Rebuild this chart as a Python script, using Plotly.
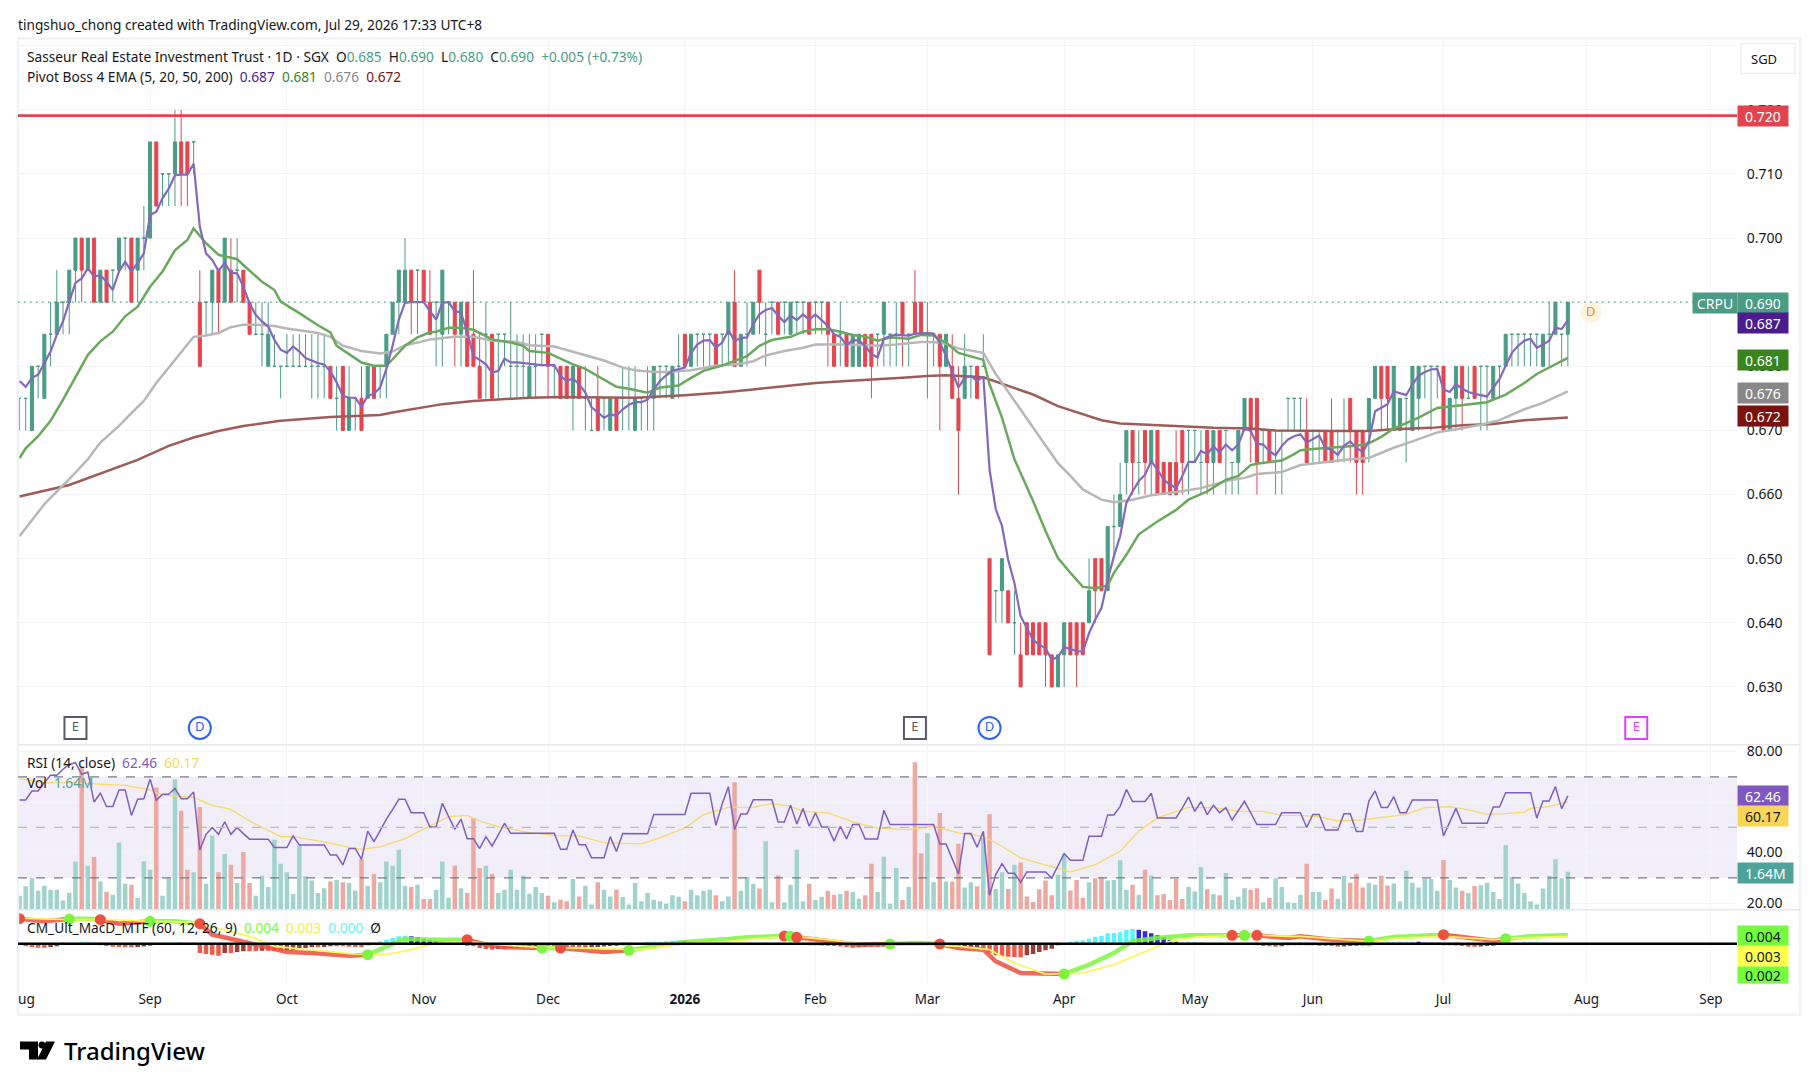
import plotly.graph_objects as go

WIDTH = 1814
HEIGHT = 1084

# prices in thousandths of SGD, one entry per session
OPEN = [
    675, 675, 670, 680, 675, 685, 685, 690, 690, 695,
    700, 695, 700, 690, 695, 695, 695, 700, 700, 695,
    700, 700, 715, 710, 710, 710, 715, 715, 715, 690,
    690, 690, 695, 690, 695, 695, 695, 690, 685, 685,
    680, 680, 680, 680, 680, 680, 680, 680, 680, 680,
    680, 675, 680, 670, 675, 675, 675, 680, 680, 680,
    685, 690, 690, 695, 695, 695, 690, 690, 685, 690,
    690, 685, 690, 685, 680, 685, 685, 685, 685, 680,
    680, 680, 675, 680, 685, 685, 680, 680, 680, 675,
    680, 675, 670, 675, 675, 670, 675, 675, 675, 670,
    675, 675, 675, 680, 680, 675, 680, 685, 680, 685,
    685, 685, 685, 685, 685, 690, 680, 685, 685, 695,
    685, 690, 690, 690, 685, 690, 690, 690, 690, 690,
    690, 685, 685, 685, 680, 680, 685, 685, 685, 685,
    685, 685, 690, 685, 690, 690, 685, 685, 685, 680,
    680, 675, 675, 680, 680, 680, 650, 645, 645, 645,
    640, 635, 640, 640, 640, 640, 635, 630, 635, 640,
    640, 640, 640, 650, 650, 645, 655, 655, 665, 670,
    665, 670, 665, 670, 665, 665, 665, 670, 670, 670,
    665, 670, 665, 670, 670, 665, 665, 670, 675, 675,
    670, 670, 670, 670, 675, 675, 675, 670, 670, 670,
    670, 670, 670, 670, 675, 670, 670, 670, 675, 680,
    680, 670, 670, 675, 670, 675, 680, 680, 680, 680,
    670, 675, 680, 675, 680, 680, 680, 675, 680, 680,
    685, 685, 685, 685, 685, 680, 685, 685, 685, 685,
]
HIGH = [
    675, 675, 680, 680, 685, 690, 695, 690, 695, 700,
    700, 700, 700, 695, 695, 695, 700, 700, 700, 700,
    705, 715, 715, 710, 710, 720, 720, 715, 715, 695,
    690, 695, 695, 700, 700, 700, 695, 690, 690, 690,
    690, 685, 680, 685, 685, 685, 685, 685, 685, 685,
    680, 680, 680, 680, 675, 680, 680, 680, 680, 685,
    690, 695, 700, 695, 695, 695, 695, 690, 695, 690,
    690, 690, 690, 695, 685, 690, 685, 685, 685, 690,
    685, 685, 685, 685, 685, 685, 680, 680, 680, 680,
    680, 680, 675, 680, 675, 675, 675, 680, 680, 680,
    675, 680, 680, 680, 680, 680, 685, 685, 685, 685,
    685, 685, 685, 685, 690, 695, 685, 690, 690, 695,
    690, 690, 690, 690, 690, 690, 690, 690, 690, 690,
    690, 685, 690, 685, 685, 685, 685, 685, 685, 690,
    685, 690, 690, 685, 695, 690, 690, 685, 685, 685,
    685, 680, 685, 680, 680, 685, 650, 645, 650, 645,
    645, 640, 640, 640, 640, 640, 635, 635, 640, 640,
    640, 640, 650, 650, 650, 655, 660, 665, 670, 670,
    670, 670, 670, 670, 665, 665, 670, 670, 670, 670,
    670, 670, 670, 670, 670, 665, 670, 675, 675, 675,
    670, 670, 670, 670, 675, 675, 675, 675, 670, 670,
    670, 675, 670, 675, 675, 670, 670, 675, 680, 680,
    680, 680, 675, 675, 680, 680, 680, 680, 680, 680,
    675, 680, 680, 680, 680, 680, 680, 680, 680, 685,
    685, 685, 685, 685, 685, 685, 690, 690, 685, 690,
]
LOW = [
    670, 670, 670, 675, 675, 680, 685, 685, 685, 690,
    690, 695, 690, 690, 690, 690, 695, 695, 690, 690,
    695, 700, 705, 705, 705, 705, 705, 705, 710, 680,
    685, 685, 685, 690, 690, 690, 690, 685, 685, 680,
    680, 680, 675, 680, 680, 680, 680, 675, 675, 675,
    675, 670, 670, 670, 670, 670, 675, 675, 675, 675,
    685, 685, 690, 685, 685, 690, 685, 680, 680, 685,
    680, 680, 680, 680, 675, 675, 675, 675, 680, 675,
    675, 675, 675, 675, 680, 675, 675, 675, 675, 670,
    675, 670, 670, 670, 670, 670, 670, 670, 670, 670,
    670, 670, 670, 675, 675, 675, 675, 680, 680, 680,
    680, 680, 680, 680, 680, 680, 680, 680, 685, 685,
    680, 685, 685, 685, 685, 685, 685, 685, 685, 685,
    680, 680, 680, 680, 680, 680, 680, 675, 680, 680,
    680, 680, 680, 680, 685, 685, 675, 680, 670, 680,
    675, 660, 675, 675, 675, 680, 635, 640, 640, 640,
    635, 630, 635, 635, 635, 630, 630, 630, 630, 635,
    630, 635, 640, 640, 645, 645, 650, 655, 660, 660,
    660, 660, 660, 660, 660, 660, 660, 660, 660, 665,
    660, 660, 660, 665, 660, 660, 660, 670, 665, 660,
    665, 665, 660, 660, 670, 670, 670, 665, 665, 665,
    665, 665, 665, 665, 665, 660, 660, 665, 675, 670,
    670, 670, 670, 665, 670, 670, 675, 670, 675, 670,
    670, 670, 670, 675, 675, 670, 670, 675, 675, 680,
    680, 680, 680, 680, 680, 680, 680, 685, 680, 680,
]
CLOSE = [
    675, 675, 680, 680, 685, 685, 690, 690, 695, 700,
    695, 700, 690, 695, 690, 695, 700, 700, 690, 700,
    700, 715, 705, 710, 710, 715, 710, 710, 715, 680,
    690, 695, 690, 700, 690, 695, 690, 685, 685, 685,
    685, 680, 680, 680, 680, 680, 680, 680, 680, 680,
    675, 675, 670, 675, 675, 670, 680, 675, 680, 685,
    690, 695, 695, 690, 695, 690, 685, 690, 695, 690,
    685, 690, 680, 680, 675, 685, 675, 685, 685, 680,
    680, 680, 680, 680, 685, 680, 680, 675, 675, 680,
    675, 675, 670, 670, 675, 675, 670, 675, 675, 675,
    675, 675, 680, 680, 680, 680, 680, 680, 685, 685,
    685, 685, 680, 685, 690, 680, 685, 685, 690, 690,
    685, 690, 685, 690, 690, 690, 690, 685, 690, 690,
    685, 680, 685, 680, 685, 685, 680, 680, 685, 690,
    685, 685, 685, 685, 685, 685, 685, 685, 680, 685,
    675, 670, 680, 680, 675, 680, 635, 645, 650, 640,
    640, 630, 635, 635, 635, 635, 630, 635, 640, 635,
    635, 635, 645, 645, 645, 655, 655, 660, 670, 665,
    665, 665, 670, 660, 660, 660, 660, 665, 670, 670,
    665, 665, 670, 665, 670, 665, 670, 675, 670, 665,
    670, 665, 670, 670, 675, 675, 675, 665, 670, 670,
    665, 665, 670, 670, 670, 665, 665, 675, 680, 675,
    675, 680, 675, 675, 680, 680, 680, 680, 680, 670,
    675, 680, 675, 675, 675, 680, 680, 680, 680, 685,
    685, 685, 685, 685, 685, 685, 685, 690, 685, 690,
]

# volume in millions
VOLUME = [
    .60, 1.01, 1.36, .82, 1.03, .86, .86, .40, .72, 2.08,
    6.18, 1.90, 2.27, 1.22, .76, .65, 2.90, 1.12, 1.08, .50,
    2.08, 1.72, 5.27, .60, 1.36, 5.63, 4.27, 1.72, 1.62, 4.43,
    1.12, 3.20, 1.62, 2.40, 1.94, 1.15, 2.49, 1.15, .60, 1.47,
    .98, 3.02, 1.98, 1.62, .68, 2.76, 1.44, 1.26, .72, .93,
    1.22, 1.29, 1.18, 1.15, .83, 2.18, 1.03, 1.54, 1.18, 2.08,
    1.90, 2.59, 1.03, .98, 1.08, .46, .46, .86, 2.08, .52,
    1.90, .93, .72, 3.95, 1.80, 1.90, 1.54, .72, .86, 1.72,
    .86, 1.47, .69, .98, .72, .60, .32, .43, .36, 1.32,
    .57, 1.03, .22, 1.18, .86, .57, .86, .55, .22, 1.15,
    .36, .72, .43, .36, .26, .62, .56, .36, .86, .62,
    .82, .86, .62, .36, .57, 5.50, .82, 1.41, 1.12, .91,
    2.95, .32, 1.48, .32, 1.08, 2.59, .36, 1.12, .42, .56,
    .82, .65, .68, .82, .76, .47, .62, 1.98, .76, 2.28,
    .26, 1.80, .42, .98, 6.36, 2.44, 3.30, 1.18, 4.17, 1.22,
    1.22, 2.84, .96, 1.18, 1.01, 3.09, 4.12, .89, 1.62, .89,
    1.94, 2.04, .57, .33, .88, 1.26, .62, 1.51, 2.40, .83,
    1.28, .52, 1.18, 1.36, 1.36, 1.26, 1.28, 2.13, .86, 1.08,
    .65, 1.72, 1.48, .62, .68, .42, 1.34, .46, .98, .79,
    1.84, .88, .68, .62, 1.58, .42, .56, .93, .86, .93,
    .32, .52, 1.36, .98, .32, .29, .65, 1.98, .76, .76,
    .42, .91, .47, 1.47, 1.16, 1.54, .96, 1.16, 1.08, 1.47,
    1.04, 1.13, .36, 1.68, 1.16, .96, 1.32, 1.32, .82, 2.14,
    1.28, .96, .82, .72, 1.02, 1.06, 1.16, .76, .46, 2.79,
    1.41, 1.13, .72, .36, .22, .91, 1.47, 2.18, 1.36, 1.64,
]

# fast EMA in thousandths, every session
EMA5 = [
    677.7, 676.8, 678.2, 678.7, 680.5, 682.3, 684.9, 687.0, 690.1, 693.0,
    693.7, 695.3, 694.0, 694.2, 693.2, 691.9, 694.8, 696.3, 694.8, 696.1,
    697.6, 703.6, 704.1, 706.2, 707.7, 709.8, 709.9, 709.9, 711.6, 701.8,
    697.6, 696.6, 694.9, 696.1, 694.6, 694.5, 692.4, 689.8, 688.0, 687.0,
    686.2, 684.1, 682.6, 682.1, 683.1, 682.3, 681.3, 680.9, 680.5, 680.3,
    679.2, 677.5, 675.4, 675.1, 675.1, 673.7, 675.4, 675.7, 676.7, 679.6,
    683.2, 687.3, 689.9, 690.0, 690.0, 690.0, 688.6, 687.3, 689.9, 690.0,
    688.6, 688.4, 685.3, 681.6, 681.0, 680.3, 679.0, 679.3, 681.2, 680.6,
    680.6, 680.5, 680.3, 680.2, 680.2, 680.2, 680.2, 678.5, 677.7, 678.1,
    677.2, 675.9, 673.6, 672.8, 672.0, 672.5, 672.3, 673.3, 674.0, 674.4,
    674.4, 674.8, 676.4, 677.7, 678.6, 679.3, 679.5, 679.8, 682.1, 683.4,
    684.0, 684.1, 682.9, 683.7, 685.6, 684.0, 684.4, 684.5, 686.6, 688.1,
    688.8, 689.1, 687.9, 686.9, 687.9, 687.2, 688.1, 687.3, 688.1, 687.2,
    686.3, 685.0, 684.6, 683.3, 684.1, 684.0, 683.2, 681.9, 681.4, 684.3,
    684.7, 684.9, 684.8, 684.8, 685.1, 685.2, 685.2, 685.1, 683.7, 681.6,
    679.3, 676.7, 678.2, 678.5, 677.7, 678.4, 663.9, 657.7, 655.1, 649.8,
    646.2, 641.0, 639.2, 637.3, 636.6, 636.0, 634.3, 634.6, 636.2, 635.9,
    635.6, 635.5, 638.4, 640.5, 642.3, 646.7, 650.4, 653.5, 658.7, 660.5,
    662.1, 663.1, 665.2, 663.9, 662.3, 661.6, 661.0, 662.9, 665.1, 665.1,
    666.8, 666.3, 667.5, 666.6, 667.8, 666.9, 667.8, 670.3, 669.9, 667.9,
    667.8, 666.8, 666.1, 667.6, 668.6, 669.1, 669.4, 668.1, 668.7, 669.2,
    667.3, 667.0, 666.2, 667.6, 668.3, 667.3, 666.6, 668.3, 673.0, 673.6,
    674.1, 676.1, 675.8, 675.5, 677.2, 678.5, 679.1, 679.5, 679.6, 676.4,
    676.0, 677.2, 676.5, 676.0, 675.7, 675.5, 675.3, 676.7, 678.0, 680.1,
    682.1, 683.2, 684.0, 684.3, 682.9, 683.4, 684.0, 686.0, 685.8, 687.2,
]

# slower EMAs are smooth, so only their bends are listed
EMA20_I = [
    0, 1, 3, 5, 7, 9, 11, 13, 15, 17, 19, 21, 23, 25, 27, 28, 30, 32, 35, 36, 39, 41, 42, 45, 48,
    50, 51, 53, 55, 57, 59, 60, 62, 64, 66, 67, 69, 71, 73, 75, 76, 79, 81, 82, 85, 87, 89, 91, 93, 96, 98,
    101, 103, 106, 108, 110, 113, 115, 117, 119, 121, 124, 126, 128, 130, 132, 134, 136, 138, 140, 143, 145, 147, 148,
    149, 151, 153, 155, 156, 158, 160, 163, 165, 167, 169, 171, 173, 175, 176, 178, 180, 183, 186, 188, 191, 194, 196, 198,
    199, 201, 203, 205, 206, 208, 211, 213, 215, 217, 219, 221, 223, 225, 228, 230, 234, 236, 239, 242, 244, 246, 249,
]
EMA20_V = [
    665.7, 667.2, 669.1, 671.5, 674.8, 678.4, 681.8, 683.9, 685.4, 687.8, 689.3, 692.4, 694.8, 698.1, 699.7, 701.5, 699.2, 697.4, 696.7, 695.8, 693.2, 691.9, 690.1, 688.3, 686.4,
    685.3, 683.2, 681.9, 680.6, 680.1, 680.1, 681.1, 683.2, 684.5, 685.3, 685.4, 686.0, 686.0, 685.7, 684.7, 684.2, 683.7, 683.2, 682.4, 682.1, 681.2, 680.3, 679.6, 678.5, 676.8, 676.5,
    675.9, 676.7, 677.0, 678.2, 679.3, 680.1, 680.9, 681.6, 683.2, 684.1, 684.6, 685.4, 685.8, 685.8, 685.4, 684.9, 684.6, 684.0, 684.5, 684.3, 684.9, 684.8, 684.2,
    683.7, 682.1, 681.6, 681.0, 677.2, 672.0, 665.5, 659.0, 654.3, 650.1, 647.8, 645.6, 645.4, 645.8, 647.8, 650.6, 653.8, 655.8, 657.6, 659.2, 660.5, 662.3, 662.9, 664.6,
    664.8, 665.1, 665.3, 666.3, 666.9, 667.1, 667.3, 667.4, 667.6, 668.0, 669.0, 670.3, 671.2, 672.0, 673.5, 673.7, 674.2, 674.4, 675.6, 677.4, 678.8, 679.8, 681.3,
]
EMA50_I = [
    0, 4, 8, 11, 13, 16, 18, 20, 22, 25, 28, 30, 32, 34, 36, 38, 41, 43, 45, 48,
    50, 52, 55, 58, 60, 62, 64, 66, 70, 73, 76, 80, 82, 86, 90, 94, 97, 99,
    102, 104, 108, 112, 116, 118, 120, 123, 126, 128, 132, 135, 138, 141, 145, 147, 149,
    151, 153, 155, 157, 160, 163, 165, 167, 169, 171, 174, 176, 179, 182, 186, 190, 194, 197, 199,
    203, 206, 210, 214, 217, 221, 224, 228, 231, 235, 238, 242, 245, 249,
]
EMA50_V = [
    653.5, 658.5, 662.4, 665.5, 668.1, 670.7, 672.7, 674.6, 677.4, 681.0, 684.6, 684.8, 685.2, 686.1, 686.5, 686.5, 686.3, 685.9, 685.6, 685.2,
    684.6, 683.2, 682.4, 682.0, 682.3, 683.3, 683.7, 684.2, 684.6, 684.6, 684.0, 683.8, 683.3, 683.1, 682.0, 680.9, 679.8, 679.4,
    679.1, 679.1, 679.4, 680.1, 680.4, 680.8, 681.7, 682.4, 682.9, 683.4, 683.4, 683.3, 683.2, 683.4, 683.8, 683.8, 683.5,
    682.8, 682.4, 682.1, 678.8, 674.6, 670.4, 667.8, 664.9, 662.9, 660.8, 659.2, 658.8, 659.2, 659.9, 660.4, 661.0, 662.1, 662.6, 663.2,
    663.5, 664.6, 665.1, 665.5, 665.7, 667.3, 668.3, 669.7, 670.2, 670.9, 671.6, 673.3, 674.3, 676.1,
]
EMA200_I = [
    0, 8, 19, 24, 28, 32, 36, 42, 50, 52, 58, 60, 64, 68, 73, 78, 82, 87, 99,
    107, 113, 118, 123, 128, 133, 137, 142, 146, 149, 155, 158, 163, 167, 171, 174, 177, 182, 187, 192, 198,
    202, 212, 217, 221, 227, 232, 237, 242, 249,
]
EMA200_V = [
    659.7, 661.5, 665.4, 667.6, 668.9, 669.9, 670.7, 671.5, 672.1, 672.2, 672.4, 672.8, 673.5, 674.1, 674.6, 674.9, 675.1, 675.2, 675.1,
    675.5, 675.9, 676.4, 676.9, 677.4, 677.7, 677.9, 678.2, 678.5, 678.6, 678.3, 677.3, 675.6, 673.8, 672.5, 671.6, 671.1, 670.9, 670.6, 670.4, 670.3,
    670.0, 669.9, 669.9, 670.2, 670.4, 670.8, 671.0, 671.6, 672.0,
]

RSI = [
    60.8, 60.8, 64.4, 64.4, 67.7, 70.6, 70.6, 73, 74.9, 75.6,
    71, 71.9, 60, 63.5, 58.2, 58.2, 64.8, 64.8, 54.7, 61.1,
    61.3, 69, 60.7, 63.1, 63.1, 65.4, 61.3, 61.3, 64, 41,
    47.2, 49.9, 47.2, 52.2, 47.2, 49.9, 47.5, 45.3, 45.3, 45.3,
    45.3, 42, 42, 42, 46.6, 43, 43, 43, 43, 43,
    39, 39, 35.1, 41.6, 41.6, 37.3, 48.5, 44.3, 48.7, 53.2,
    57, 61.1, 61.1, 55.8, 55.8, 55.8, 50.1, 50.1, 59.5, 54.5,
    49.2, 53.2, 45.5, 45.5, 41.6, 46.3, 42.6, 47, 51.6, 47.6,
    47.6, 47.6, 47.6, 47.6, 47.6, 47.6, 47.6, 41.3, 41.3, 48.9,
    43.1, 43.1, 37.9, 37.9, 37.9, 46.3, 40.4, 47.5, 47.5, 47.5,
    47.4, 47.4, 55.1, 55.1, 55.1, 55.1, 55.1, 55.1, 63.5, 63.5,
    63.5, 63.5, 50.8, 59.2, 66.1, 49.1, 55.3, 55.3, 60.9, 60.9,
    60.9, 60.9, 52.1, 52.1, 58.7, 51.3, 57.4, 50.4, 55.7, 50.1,
    50.1, 44.5, 50.4, 45.4, 51.1, 51.1, 45.4, 45.4, 45.4, 56.7,
    51.1, 51.1, 51.1, 51.1, 51.1, 51.1, 51.1, 51.1, 43.4, 43.4,
    37.5, 31.5, 47.5, 47.5, 42.1, 48.4, 23.1, 31.3, 35.6, 31.8,
    31.8, 28.2, 32.3, 32.3, 32.3, 32.3, 29.9, 34.8, 39.6, 36.9,
    36.9, 36.9, 46.4, 46.4, 46.4, 54.9, 54.9, 58.3, 65, 60.2,
    60.2, 60.2, 63.5, 53.7, 53.7, 53.7, 53.7, 57.7, 62, 56.3,
    60.2, 55, 58.7, 55.8, 57.8, 52.9, 56.7, 60.3, 55.7, 51.1,
    51.1, 51.1, 51.1, 55.8, 55.8, 55.8, 55.8, 49.9, 55.1, 55.1,
    48.9, 48.9, 48.9, 55.4, 55.4, 48.3, 48.3, 60.4, 64.4, 57.8,
    57.8, 62.1, 55.8, 55.8, 60.8, 60.8, 60.8, 60.8, 60.8, 46.6,
    52, 57.5, 51.6, 51.6, 51.6, 51.6, 51.6, 58, 58, 63.7,
    63.7, 63.7, 63.7, 63.7, 53.6, 60.4, 60.4, 66.1, 57.4, 62.46,
]
RSI_MA_I = [
    0, 4, 8, 13, 17, 21, 23, 28, 31, 34, 37, 42, 44, 49, 53, 55, 58, 62, 66, 69, 72, 74, 77, 82, 87, 90, 94,
    100, 103, 107, 110, 114, 118, 121, 124, 126, 130, 134, 138, 143, 147, 151, 155, 158, 161, 165, 169, 173, 177, 180, 183, 188, 192, 196, 200, 203,
    206, 209, 212, 216, 220, 223, 226, 230, 233, 236, 239, 242, 243, 246, 249,
]
RSI_MA_V = [
    69.3, 67.7, 67.7, 67, 66.6, 64.8, 62.7, 61.8, 58.7, 57.1, 52.5, 46.3, 46.3, 44.2, 42, 41.3, 42.2, 45.5, 50.5, 54.2, 54.7, 52.5, 50.3, 47.9, 46.6, 46.6, 43.9,
    43.4, 45.8, 49.7, 55, 57.9, 58, 59.4, 58.3, 56.3, 55.7, 52.1, 49.7, 49.1, 50.4, 47.8, 46.4, 42.5, 37.9, 35, 32.3, 35.2, 40.5, 48.4, 53.7, 57.9, 57.9, 56.3, 56.3, 54.7,
    54.7, 54.1, 52.5, 52.9, 54.1, 55.1, 57.8, 58.2, 56.9, 55.1, 55.4, 56, 57.5, 58.2, 60.17,
]

# MACD values in thousandths
MACD_I = [
    0, 4, 8, 11, 13, 16, 21, 25, 29, 31, 35, 40, 43, 47, 53, 56, 59, 62, 66, 72, 75, 78, 84, 87, 91, 94, 98, 103, 107,
    114, 117, 123, 124, 125, 130, 135, 140, 144, 148, 151, 155, 157, 161, 168, 172, 176, 179, 183, 188, 195, 197, 199, 204,
    206, 211, 217, 221, 229, 233, 237, 239, 243, 249,
]
MACD_V = [
    12.5, 11.2, 12.3, 12.5, 12, 10, 11.2, 11.2, 10, 4.5, 1.7, -2.2, -4.2, -4.7, -6, -5.5, -1.8, 2.5, 2, 2, -.5, -1.8, -2.2, -2.2, -3.3, -4.2, -3.3, -1, .8,
    2.3, 3.2, 3.8, 3.7, 3.2, 1.2, -.5, -.2, .3, -.2, -2.2, -3, -8.8, -14.7, -15.2, -10.5, -4.7, 1.2, 2.8, 4.2, 4.2, 4.2, 4.2, 2.8,
    3.7, 2, 1.3, 3.3, 4.5, 2.8, 1.5, 2.5, 3.7, 4.2,
]
MACD_CROSS_I = [0, 8, 13, 21, 29, 56, 72, 84, 87, 98, 123, 124, 125, 140, 148, 168, 195, 197, 199, 217, 229, 239]
SIGNAL_I = [
    0, 8, 15, 21, 28, 32, 37, 41, 47, 54, 59, 63, 67, 72, 77, 83, 90, 97,
    100, 107, 114, 121, 126, 130, 136, 145, 151, 156, 160, 165, 171, 176, 181, 185, 189, 197, 204,
    206, 211, 217, 222, 229, 237, 239, 249,
]
SIGNAL_V = [
    12.8, 12, 12, 11.2, 10.8, 7.8, 3.7, -1.3, -3, -5.2, -5.5, -3, .3, 1.2, -.5, -1.7, -2.2, -3,
    -3, 0, 1.2, 3.2, 3.3, 2, -.2, -.5, -1.3, -3, -9.7, -15.2, -14.7, -10.5, -3.8, 1.2, 3.3, 4.5, 3.7,
    3.7, 2.5, 1.2, 2.8, 3.7, 2, 2.5, 3.7,
]
HIST = [
    0, -1.3, -1.8, -2, -2, -1.7, -1.3, -.3, 0, .3,
    .5, .5, .3, -.8, -1.2, -1.5, -1.7, -1.8, -1.8, -1.7,
    -1.4, -1, 0, 0, .2, .3, .1, 0, -.3, -4.7,
    -5.2, -5.5, -6, -4.7, -4.7, -4.2, -3.8, -3.8, -3.8, -3.5,
    -3.5, -3.5, -3.5, -3.3, -3, -2.7, -2.2, -1.8, -1.8, -1.7,
    -1.3, -1.3, -1.3, -1.5, -1.7, -1.7, -.8, -.3, 1.2, 2,
    2.8, 3.7, 4, 3.7, 3.3, 2.5, 2, 1.3, 1, .7,
    .3, .2, -1, -1.3, -2.2, -2.7, -3, -2.7, -2.5, -2.2,
    -2, -1.8, -1.5, -1.3, -1, -1, -1.2, -1.5, -1.8, -2,
    -2, -2, -1.8, -1.6, -1.4, -1.2, -1, -.8, -.5, 0,
    .3, .5, .8, 1, 1.2, 1.5, 1.7, 1.5, .5, .3,
    1.8, 1.5, 1, .3, .1, .1, .1, .1, .1, .1,
    .1, .1, .1, 0, 0, -.5, -.7, -.8, -.8, -.9,
    -1, -1.2, -1.4, -1.7, -2, -1.8, -1.6, -1.6, -1.6, -1.4,
    -1.3, -.3, -.3, -.3, -.3, -.3, -.3, -.3, -.3, -1.5,
    -2, -2.3, -2.2, -2, -1.8, -3, -4.5, -5.8, -6.2, -6.5,
    -6.7, -6.8, -5.8, -5.2, -4.2, -3.3, -2.5, -.8, 0, .8,
    1.5, 1.7, 2.5, 3.5, 4, 5.2, 5.3, 5.7, 6.8, 7.3,
    7, 6.2, 5.2, 4.2, 3.2, 2, .5, .2, .8, .2,
    .1, .1, .1, .1, .1, .1, 0, 0, 0, -.8,
    -1.2, -1.3, -1.5, -1.3, -.8, -.8, -.8, -.8, -.8, -1,
    -1, -1.2, -1.5, -1.4, -1.2, -1, -.9, 0, .3, .4,
    .5, .8, .9, 1, 1, .6, .4, .2, .1, -.8,
    -.8, -.9, -1.2, -1.5, -1.5, -1.4, -1.2, -1, -.3, 0,
    .3, .4, .5, .6, .7, .1, 0, 0, 0, 0,
]

MONTH_I = [21, 43, 65, 85, 107, 128, 146, 168, 189, 208, 229, 252, 272]
MONTH_LABELS = ["Sep", "Oct", "Nov", "Dec", "<b>2026</b>", "Feb", "Mar", "Apr", "May", "Jun", "Jul", "Aug", "Sep"]
PRICE_TICKS = [0.63, 0.64, 0.65, 0.66, 0.67, 0.68, 0.69, 0.70, 0.71, 0.72, 0.73]
PRICE_LABELS = ["0.630", "0.640", "0.650", "0.660", "0.670", "0.680", "0.690", "0.700", "0.710", "0.720", ""]

RESISTANCE = 0.7191
LAST_CLOSE = 0.690
# earnings and dividend markers
EVENT_I = [9, 29, 144, 156, 260]
EVENT_TEXT = ["E", "D", "E", "D", "E"]
NEXT_DIV_I = 252.7
NEXT_DIV_PRICE = 0.6884

n = len(CLOSE)
assert len(OPEN) == len(HIGH) == len(LOW) == n == len(VOLUME) == len(EMA5) == len(RSI) == len(HIST) == 250
assert len(EMA20_I) == len(EMA20_V) and len(EMA50_I) == len(EMA50_V) and len(EMA200_I) == len(EMA200_V)
assert len(RSI_MA_I) == len(RSI_MA_V) and len(MACD_I) == len(MACD_V) and len(SIGNAL_I) == len(SIGNAL_V)

GREEN = "#4a9c85"
RED = "#e5454f"
TEXT = "#131722"
GRID = "#f3f4f7"
FONT = "Noto Sans"


def px(x):
    return x / WIDTH


def py(y):
    # small vertical correction, the render came out a little off against the reference
    return 1 - ((y - 2.54) / 0.9962) / HEIGHT


def k(values):
    return [v / 1000 for v in values]


fig = go.Figure()

# candles: one trace per colour so that flat bars stay green
for is_up, color in [(True, GREEN), (False, RED)]:
    idx = [i for i in range(n) if (CLOSE[i] >= OPEN[i]) == is_up]
    fig.add_trace(go.Candlestick(
        x=idx,
        open=[OPEN[i] / 1000 for i in idx],
        high=[HIGH[i] / 1000 for i in idx],
        low=[LOW[i] / 1000 for i in idx],
        close=[CLOSE[i] / 1000 for i in idx],
        increasing=dict(line=dict(color=color, width=1), fillcolor=color),
        decreasing=dict(line=dict(color=color, width=1), fillcolor=color),
        xaxis="x", yaxis="y", hoverinfo="skip",
    ))

fig.add_trace(go.Scatter(x=EMA200_I, y=k(EMA200_V), mode="lines", line=dict(color="#9e5c58", width=2.5), xaxis="x", yaxis="y"))
fig.add_trace(go.Scatter(x=EMA50_I, y=k(EMA50_V), mode="lines", line=dict(color="#b7b7b7", width=2.5), xaxis="x", yaxis="y"))
fig.add_trace(go.Scatter(x=EMA20_I, y=k(EMA20_V), mode="lines", line=dict(color="#69a95c", width=2.5), xaxis="x", yaxis="y"))
fig.add_trace(go.Scatter(x=list(range(n)), y=k(EMA5), mode="lines", line=dict(color="#8468bd", width=2.2), xaxis="x", yaxis="y"))

# event markers sit just under the price pane's lowest bars
EVENT_SYMBOLS = {"E": "square-open", "D": "circle-open"}
EVENT_COLORS = ["#555a66", "#2962ff", "#555a66", "#2962ff", "#e040fb"]
fig.add_trace(go.Scatter(
    x=EVENT_I, y=[0.6236] * len(EVENT_I), mode="markers+text", text=EVENT_TEXT,
    textposition="middle center", textfont=dict(family=FONT, size=13, color=EVENT_COLORS),
    marker=dict(symbol=[EVENT_SYMBOLS[t] for t in EVENT_TEXT], size=22, color=EVENT_COLORS, line=dict(width=2, color=EVENT_COLORS)),
    xaxis="x", yaxis="y", cliponaxis=False,
))
fig.add_trace(go.Scatter(
    x=[NEXT_DIV_I], y=[NEXT_DIV_PRICE], mode="markers+text", text=["D"],
    textposition="middle center", textfont=dict(family=FONT, size=13, color="#f28c28"),
    marker=dict(symbol="circle", size=21, color="#fff3e0"), xaxis="x", yaxis="y",
))

# volume sits on the base axis of the middle pane so the RSI draws over it
vol_colors = ["#eda8a2" if CLOSE[i] < OPEN[i] else "#9fd3cb" for i in range(n)]
fig.add_trace(go.Bar(x=list(range(n)), y=VOLUME, marker=dict(color=vol_colors, line=dict(width=0)), width=0.72, xaxis="x2", yaxis="y2"))
fig.add_trace(go.Scatter(x=RSI_MA_I, y=RSI_MA_V, mode="lines", line=dict(color="#f7d968", width=1.3), xaxis="x2", yaxis="y3"))
fig.add_trace(go.Scatter(x=list(range(n)), y=RSI, mode="lines", line=dict(color="#7e5fc0", width=1.5), xaxis="x2", yaxis="y3"))

# MACD pane, bars coloured by sign and direction
hist_colors = []
for i, v in enumerate(HIST):
    prev = HIST[i - 1] if i else 0
    if v >= 0:
        hist_colors.append("#55f5ff" if v >= prev else "#2b2be0")
    else:
        hist_colors.append("#ec5a4c" if v <= prev else "#9a3c38")
fig.add_trace(go.Bar(x=list(range(n)), y=k(HIST), marker=dict(color=hist_colors, line=dict(width=0)), width=0.72, xaxis="x3", yaxis="y4"))

MACD_UP = "#7df53f"
MACD_DOWN = "#ee5040"
for c, start in enumerate(MACD_CROSS_I):
    color = MACD_DOWN if c % 2 == 0 else MACD_UP
    end = MACD_CROSS_I[c + 1] if c + 1 < len(MACD_CROSS_I) else n
    seg = [j for j, i in enumerate(MACD_I) if start <= i <= end]
    fig.add_trace(go.Scatter(
        x=[MACD_I[j] for j in seg], y=[MACD_V[j] / 1000 for j in seg], mode="lines",
        line=dict(color=color, width=4.5), opacity=0.85, xaxis="x3", yaxis="y4",
    ))
fig.add_trace(go.Scatter(x=SIGNAL_I, y=k(SIGNAL_V), mode="lines", line=dict(color="#fdf65a", width=1.8), xaxis="x3", yaxis="y4"))
dot_values = [MACD_V[MACD_I.index(i)] / 1000 for i in MACD_CROSS_I]
dot_colors = [MACD_DOWN if c % 2 == 0 else MACD_UP for c in range(len(MACD_CROSS_I))]
fig.add_trace(go.Scatter(
    x=MACD_CROSS_I, y=dot_values, mode="markers",
    marker=dict(size=11, color=dot_colors), xaxis="x3", yaxis="y4",
))

PLOT_L, PLOT_R = 18, 1737
x_range = [-0.24, 276.2]
x_common = dict(
    range=x_range, domain=[px(PLOT_L), px(PLOT_R)], tickmode="array", tickvals=MONTH_I,
    showgrid=True, gridcolor=GRID, gridwidth=1, zeroline=False, showline=False,
    rangeslider=dict(visible=False),
)
y_common = dict(side="right", showgrid=True, gridcolor=GRID, gridwidth=1, zeroline=False, showline=False)

shapes = [
    # chart frame and pane separators
    dict(type="rect", xref="paper", yref="paper", x0=px(18), x1=px(1800), y0=py(38), y1=py(1015), line=dict(color="#f0f2f6", width=2.5)),
    dict(type="line", xref="paper", yref="paper", x0=px(18), x1=px(1800), y0=py(745), y1=py(745), line=dict(color="#e6e8ee", width=1.5)),
    dict(type="line", xref="paper", yref="paper", x0=px(18), x1=px(1800), y0=py(910), y1=py(910), line=dict(color="#e6e8ee", width=1.5)),
    dict(type="rect", xref="paper", yref="paper", x0=px(1741), x1=px(1795), y0=py(43), y1=py(73), fillcolor="#ffffff", line=dict(color="#eceef3", width=1.5)),
    # price lines
    dict(type="line", xref="paper", yref="y", x0=px(PLOT_L), x1=px(PLOT_R), y0=RESISTANCE, y1=RESISTANCE, line=dict(color="#e0454f", width=2.6)),
    dict(type="line", xref="paper", yref="y", x0=px(PLOT_L), x1=px(1693), y0=LAST_CLOSE, y1=LAST_CLOSE, line=dict(color=GREEN, width=1.3, dash="1.5px,4.5px")),
    # RSI band
    dict(type="rect", xref="paper", yref="y3", x0=px(PLOT_L), x1=px(PLOT_R), y0=30, y1=70, fillcolor="rgba(126,87,194,0.1)", line=dict(width=0), layer="below"),
    dict(type="line", xref="paper", yref="y3", x0=px(PLOT_L), x1=px(PLOT_R), y0=70, y1=70, line=dict(color="#787b86", width=1.2, dash="dash")),
    dict(type="line", xref="paper", yref="y3", x0=px(PLOT_L), x1=px(PLOT_R), y0=50, y1=50, line=dict(color="#b9bbc4", width=1.2, dash="dash")),
    dict(type="line", xref="paper", yref="y3", x0=px(PLOT_L), x1=px(PLOT_R), y0=30, y1=30, line=dict(color="#787b86", width=1.2, dash="dash")),
    # MACD zero line
    dict(type="line", xref="paper", yref="y4", x0=px(PLOT_L), x1=px(PLOT_R), y0=0, y1=0, line=dict(color="#000000", width=2.4)),
    # TradingView logo
    dict(type="path", xref="paper", yref="paper", fillcolor="#000000", line=dict(width=0),
         path=f"M{px(20)},{py(1042)} H{px(38)} V{py(1060)} H{px(29)} V{py(1050)} H{px(20)} Z"),
    dict(type="circle", xref="paper", yref="paper", fillcolor="#000000", line=dict(width=0),
         x0=px(38.5), x1=px(45.5), y0=py(1042), y1=py(1049)),
    dict(type="path", xref="paper", yref="paper", fillcolor="#000000", line=dict(width=0),
         path=f"M{px(46)},{py(1042)} H{px(55)} L{px(46)},{py(1060)} H{px(37)} Z"),
]


def label(x, y, text, size=13.7, color=TEXT, weight=None):
    return dict(
        xref="paper", yref="paper", x=px(x), y=py(y), text=text, showarrow=False, xanchor="left", yanchor="middle",
        font=dict(family=FONT, size=size, color=color, weight=weight),
    )


def tag(y, text, bg, color="#ffffff", x0=1738, x1=1788, h=20):
    return dict(
        xref="paper", yref="paper", x=px((x0 + x1) / 2), y=py(y), text=text, showarrow=False, xanchor="center", yanchor="middle",
        width=x1 - x0, height=h, bgcolor=bg, align="center", borderpad=0,
        font=dict(family=FONT, size=14, color=color),
    )


def span(text, color):
    return f'<span style="color:{color}">{text}</span>'


ohlc = "  ".join(f"{a}{span(b, GREEN)}" for a, b in [("O", "0.685"), ("H", "0.690"), ("L", "0.680"), ("C", "0.690")])
annotations = [
    label(16, 24, "tingshuo_chong created with TradingView.com, Jul 29, 2026 17:33 UTC+8"),
    label(25, 56, "Sasseur Real Estate Investment Trust · 1D · SGX  " + ohlc + "  " + span("+0.005 (+0.73%)", GREEN)),
    label(25, 76, "Pivot Boss 4 EMA (5, 20, 50, 200)  " + "  ".join(span(t, c) for t, c in [("0.687", "#4a1d8f"), ("0.681", "#3a8420"), ("0.676", "#888888"), ("0.672", "#7a110d")])),
    label(25, 763, "RSI (14, close)  " + span("62.46", "#7e57c2") + "  " + span("60.17", "#f7d657")),
    label(25, 783, "Vol  " + span("1.64M", "#4da39a")),
    label(25, 928, "CM_Ult_MacD_MTF (60, 12, 26, 9)  " + span("0.004", "#76fc3f") + "  " + span("0.003", "#f5f03a") + "  " + span("0.000", "#5ff4ff") + "  Ø"),
    label(16, 999, "ug"),
    label(62, 1051, "TradingView", size=24, color="#000000", weight=500),
    dict(xref="paper", yref="paper", x=px(1764), y=py(59), text="SGD", showarrow=False, xanchor="center", yanchor="middle", font=dict(family=FONT, size=13, color=TEXT)),
    tag(116, "0.720", "#e0454f"),
    tag(303, "CRPU", GREEN, x0=1693, x1=1737),
    tag(303, "0.690", GREEN),
    tag(323, "0.687", "#4a1d8f"),
    tag(360, "0.681", "#3a8420"),
    tag(393, "0.676", "#888888"),
    tag(416, "0.672", "#7a110d"),
    tag(796, "62.46", "#7e57c2"),
    tag(816, "60.17", "#f7d657", color=TEXT),
    tag(873, "1.64M", "#4da39a", x1=1793),
    tag(936, "0.004", "#76fc3f", color=TEXT),
    tag(956, "0.003", "#ffff4d", color=TEXT),
    tag(975, "0.002", "#76fc3f", color=TEXT, h=16),
]

fig.update_layout(
    width=WIDTH, height=HEIGHT, margin=dict(l=0, r=0, t=0, b=0), showlegend=False,
    paper_bgcolor="#ffffff", plot_bgcolor="#ffffff", hovermode=False, barmode="overlay",
    font=dict(family=FONT, size=13, color=TEXT),
    xaxis=dict(**x_common, anchor="y", showticklabels=False, ticks=""),
    xaxis2=dict(**x_common, anchor="y2", matches="x", showticklabels=False, ticks=""),
    xaxis3=dict(**x_common, anchor="y4", matches="x", ticktext=MONTH_LABELS, ticks="outside", ticklen=4, tickcolor="rgba(0,0,0,0)", tickfont=dict(family=FONT, size=13.5, color=TEXT)),
    yaxis=dict(**y_common, anchor="x", domain=[py(745), py(38)], range=[0.62096, 0.73114], tickmode="array", tickvals=PRICE_TICKS, ticktext=PRICE_LABELS,
               ticks="outside", ticklen=6, tickcolor="rgba(0,0,0,0)", tickfont=dict(family=FONT, size=14, color=TEXT)),
    yaxis2=dict(anchor="x2", domain=[py(910), py(745)], range=[0, 7.11], visible=False),
    yaxis3=dict(**y_common, anchor="x2", overlaying="y2", range=[17.35, 82.65], dtick=20, tick0=20, tickformat=".2f",
                ticks="outside", ticklen=6, tickcolor="rgba(0,0,0,0)", tickfont=dict(family=FONT, size=14, color=TEXT)),
    yaxis4=dict(anchor="x3", domain=[py(983), py(910)], range=[-0.0195, 0.017], side="right", showgrid=False, zeroline=False, showticklabels=False),
    shapes=shapes, annotations=annotations,
)

fig.write_html("out.html", config={"displayModeBar": False}, post_script="document.body.style.margin='0';")
